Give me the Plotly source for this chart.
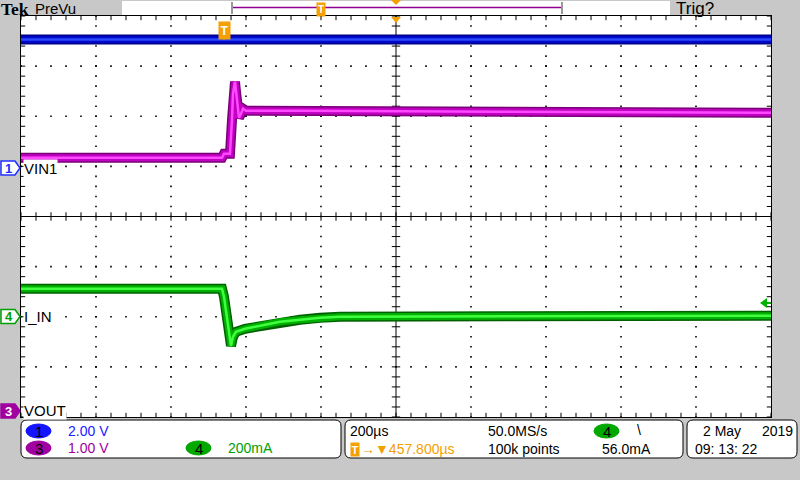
import numpy as np
import plotly.graph_objects as go

# ---------------- scope settings ----------------
TIME_PER_DIV = 200.0        # µs / div
TRIG_DELAY = 457.8          # µs, screen centre relative to trigger
CH1_SCALE, CH1_POS = 2.0, 0.97      # V/div, position (div)
CH3_SCALE, CH3_POS = 1.0, -3.87     # V/div
CH4_SCALE, CH4_POS = 200.0, -2.0    # mA/div

# ---------------- waveform data ----------------
# CH1  VIN1 (V)
ch1_t = [-542.2, 1457.8]
ch1_v = [5.12, 5.12]

# CH3  VOUT (V)
ch3_t = [-542.2, -6.2, -0.9, 15.1, 20.5, 23.1, 28.5, 31.1, 33.8, 39.1, 44.5, 49.8, 57.8, 201.8, 735.1, 1457.8]
ch3_v = [5.04, 5.04, 5.12, 5.12, 5.80, 6.32, 6.56, 6.36, 6.12, 5.84, 5.92, 6.02, 5.98, 5.98, 5.96, 5.94]

# CH4  I_IN (mA)
ch4_t = [-542.2, -6.2, -0.9, 9.8, 17.8, 23.1, 31.1, 55.1, 95.1, 148.5, 201.8, 255.1, 308.5, 735.1, 1457.8]
ch4_i = [112, 112, 80, -24, -116, -80, -60, -48, -36, -20, -12, -4, 0, 2, 4]

W, H = 800, 480
X0, X1, Y0, Y1 = 21, 771, 16, 417   # graticule pixel box


def px(x):
    return x / W


def py(y):
    return 1 - y / H


def yrange(scale, pos):
    return [(-4 - pos) * scale, (4 - pos) * scale]


t_left = TRIG_DELAY - 5 * TIME_PER_DIV
t_right = TRIG_DELAY + 5 * TIME_PER_DIV

fig = go.Figure()

# ---------------- graticule (in divisions) ----------------
dx, dy = [], []
for gx in [-4, -3, -2, -1, 1, 2, 3, 4]:
    for gy in np.arange(-4, 4.001, 0.2):
        dx.append(gx); dy.append(gy)
for gy in [-3, -2, -1, 1, 2, 3]:
    for gx in np.arange(-5, 5.001, 0.2):
        dx.append(gx); dy.append(gy)
fig.add_trace(go.Scatter(x=dx, y=dy, mode="markers", hoverinfo="skip",
                         marker=dict(symbol="square", size=1.6, color="black", line=dict(width=0)),
                         xaxis="x", yaxis="y"))
# ticks on centre lines and frame
minor_x = np.arange(-5, 5.001, 0.2)
minor_y = np.arange(-4, 4.001, 0.2)
tx = list(minor_x) * 3
ty = [0] * len(minor_x) + [4] * len(minor_x) + [-4] * len(minor_x)
fig.add_trace(go.Scatter(x=tx, y=ty, mode="markers", hoverinfo="skip",
                         marker=dict(symbol="line-ns", size=6, line=dict(width=1, color="black")),
                         xaxis="x", yaxis="y"))
ux = [0] * len(minor_y) + [-5] * len(minor_y) + [5] * len(minor_y)
uy = list(minor_y) * 3
fig.add_trace(go.Scatter(x=ux, y=uy, mode="markers", hoverinfo="skip",
                         marker=dict(symbol="line-ew", size=6, line=dict(width=1, color="black")),
                         xaxis="x", yaxis="y"))


# ---------------- waveforms ----------------
def band(t, v, yaxis, outer, mid, inner):
    for c, w in [(outer, 10), (mid, 7), (inner, 2.5)]:
        fig.add_trace(go.Scatter(x=t, y=v, mode="lines", hoverinfo="skip",
                                 line=dict(color=c, width=w, shape="linear"),
                                 xaxis="x2", yaxis=yaxis))


band(ch1_t, ch1_v, "y2", "#000088", "#0008c8", "#2848ff")
band(ch3_t, ch3_v, "y3", "#7a0078", "#c000c0", "#ff48ff")
band(ch4_t, ch4_i, "y4", "#006000", "#00b000", "#40ff40")

shapes = []
# centre cross
shapes.append(dict(type="line", xref="x", yref="y", x0=0, x1=0, y0=-4, y1=4,
                   line=dict(color="black", width=1), layer="below"))
shapes.append(dict(type="line", xref="x", yref="y", x0=-5, x1=5, y0=0, y1=0,
                   line=dict(color="black", width=1), layer="below"))


def rrect(x0, y0, x1, y1, r):
    pts = (f"M {px(x0 + r)},{py(y0)} L {px(x1 - r)},{py(y0)} Q {px(x1)},{py(y0)} {px(x1)},{py(y0 + r)} "
           f"L {px(x1)},{py(y1 - r)} Q {px(x1)},{py(y1)} {px(x1 - r)},{py(y1)} "
           f"L {px(x0 + r)},{py(y1)} Q {px(x0)},{py(y1)} {px(x0)},{py(y1 - r)} "
           f"L {px(x0)},{py(y0 + r)} Q {px(x0)},{py(y0)} {px(x0 + r)},{py(y0)} Z")
    return pts


def poly(points):
    s = "M " + " L ".join(f"{px(a)},{py(b)}" for a, b in points) + " Z"
    return s


# bottom info boxes
for (a, b, c, d) in [(21, 420, 341, 458), (345, 420, 683, 458), (687, 420, 797, 458)]:
    shapes.append(dict(type="path", xref="paper", yref="paper", path=rrect(a, b, c, d, 6),
                       fillcolor="white", line=dict(color="black", width=1)))

# badges (ellipses)
badges = [(26, 424, 51, 438, "#1414ff", "1"), (26, 441, 51, 455, "#a000a0", "3"),
          (186, 441, 211, 455, "#00a800", "4"), (594, 424, 619, 438, "#00a800", "4")]
for a, b, c, d, col, _ in badges:
    shapes.append(dict(type="circle", xref="paper", yref="paper", x0=px(a), x1=px(c), y0=py(d), y1=py(b),
                       fillcolor=col, line=dict(color=col, width=1)))

# top record bar
shapes.append(dict(type="rect", xref="paper", yref="paper", x0=px(122), x1=px(670), y0=py(15), y1=py(1),
                   fillcolor="white", line=dict(width=0)))
shapes.append(dict(type="line", xref="paper", yref="paper", x0=px(232), x1=px(562), y0=py(7.5), y1=py(7.5),
                   line=dict(color="#900090", width=1.5)))
for xb in [232, 562]:
    shapes.append(dict(type="line", xref="paper", yref="paper", x0=px(xb), x1=px(xb), y0=py(2), y1=py(14),
                       line=dict(color="#999999", width=2)))
shapes.append(dict(type="path", xref="paper", yref="paper", path=poly([(391, 0), (401, 0), (396, 5)]),
                   fillcolor="#f4a000", line=dict(width=0)))
# trigger position triangle at top of graticule
shapes.append(dict(type="path", xref="paper", yref="paper", path=poly([(391, 17), (401, 17), (396, 23)]),
                   fillcolor="#f4a000", line=dict(width=0)))
# trigger point pointer below T marker
shapes.append(dict(type="path", xref="paper", yref="paper", path=poly([(220, 36), (228, 36), (224, 40)]),
                   fillcolor="#f4a000", line=dict(width=0)))
# trigger level arrow (ch4) on right edge
shapes.append(dict(type="path", xref="paper", yref="paper", path=poly([(760, 303), (767, 298), (767, 308)]),
                   fillcolor="#00b000", line=dict(width=0)))
shapes.append(dict(type="line", xref="paper", yref="paper", x0=px(766), x1=px(771), y0=py(303), y1=py(303),
                   line=dict(color="#00b000", width=2)))

# channel ground markers on left
markers = [(168, "white", "#2030ff", "1", "#2030ff"), (316.5, "white", "#00a000", "4", "#00a000"),
           (411, "#a000a0", "#a000a0", "3", "white")]
for yc, fill, edge, label, tcol in markers:
    shapes.append(dict(type="path", xref="paper", yref="paper",
                       path=poly([(1, yc - 7), (15, yc - 7), (20, yc), (15, yc + 7), (1, yc + 7)]),
                       fillcolor=fill, line=dict(color=edge, width=1.5)))

FONT = "Liberation Sans, Arial, sans-serif"
ann = []


def text(x, y, s, color="black", size=14, anchor="left", family=FONT, bg=None, pad=0):
    d = dict(xref="paper", yref="paper", x=px(x), y=py(y), text=s, showarrow=False,
             xanchor=anchor, yanchor="middle", font=dict(family=family, size=size, color=color),
             borderpad=pad)
    if bg:
        d["bgcolor"] = bg
    ann.append(d)


for yc, fill, edge, label, tcol in markers:
    text(8.5, yc, f"<b>{label}</b>", tcol, 13, "center")

text(23, 168, "VIN1", "black", 15, bg="white")
text(23, 316.5, "I_IN", "black", 15, bg="white")
text(23, 410.5, "VOUT", "black", 15, bg="white")

# header
text(0, 9, "<b>Tek</b>", "black", 17.5, family="Liberation Serif, serif")
text(34, 8.5, "PreVu", "black", 15)
text(675, 8.5, "Trig?", "black", 17)
# small T markers
text(321, 9, "<b>T</b>", "white", 10, "center", bg="#f4a000", pad=1)
text(224, 30, "<b>T</b>", "white", 12, "center", bg="#f4a000", pad=1.5)

# bottom panel texts
for a, b, c, d, col, lab in badges:
    text((a + c) / 2, (b + d) / 2 + 0.5, lab, "black", 15, "center")
text(67, 431, "2.00 V", "#2020ff", 14)
text(67, 448, "1.00 V", "#a000a0", 14)
text(227, 448, "200mA", "#00a000", 14)
text(349, 431, "200µs", "black", 14)
text(487, 431, "50.0MS/s", "black", 14)
text(636, 430, "\\", "black", 14)
text(354.5, 449, "<b>T</b>", "white", 11, "center", bg="#f4a000", pad=0.5)
text(360, 449, "<b>→</b>▼457.800µs", "#f4a000", 14)
text(487, 449, "100k points", "black", 14)
text(601, 449, "56.0mA", "black", 14)
text(702, 431, "2 May", "black", 14)
text(761, 431, "2019", "black", 14)
text(694, 449, "09: 13: 22", "black", 14)

ax_common = dict(showgrid=False, zeroline=False, showticklabels=False, ticks="", fixedrange=True)
fig.update_layout(
    width=W, height=H, margin=dict(l=0, r=0, t=0, b=0),
    paper_bgcolor="#c8c8c8", plot_bgcolor="white", showlegend=False,
    xaxis=dict(domain=[px(X0), px(X1)], range=[-5, 5], showline=True, mirror=True,
               linecolor="black", linewidth=1, **ax_common),
    yaxis=dict(domain=[py(Y1), py(Y0)], range=[-4, 4], showline=True, mirror=True,
               linecolor="black", linewidth=1, **ax_common),
    xaxis2=dict(overlaying="x", range=[t_left, t_right], visible=False, fixedrange=True),
    yaxis2=dict(overlaying="y", range=yrange(CH1_SCALE, CH1_POS), visible=False, fixedrange=True),
    yaxis3=dict(overlaying="y", range=yrange(CH3_SCALE, CH3_POS), visible=False, fixedrange=True),
    yaxis4=dict(overlaying="y", range=yrange(CH4_SCALE, CH4_POS), visible=False, fixedrange=True),
    shapes=shapes, annotations=ann,
)

fig.write_html("out.html", config={"displayModeBar": False},
               post_script="document.body.style.margin='0';document.body.style.background='#c8c8c8';")
